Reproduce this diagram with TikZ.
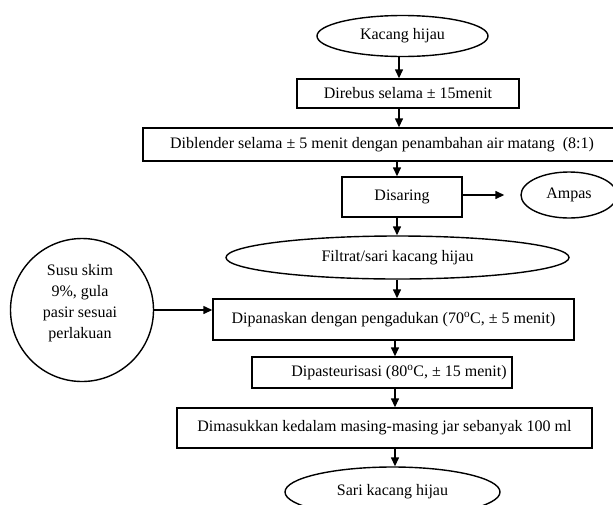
\documentclass[tikz,border=0pt]{standalone}
\usepackage{fontspec}
\setmainfont{Liberation Serif}
\usetikzlibrary{shapes.geometric,arrows.meta}
\begin{document}
\begin{tikzpicture}[x=1pt,y=-1pt,
  every node/.style={font=\fontsize{16}{21}\selectfont, inner sep=0pt},
  stepbox/.style={draw, line width=1.4pt, rectangle},
  oval/.style={draw, line width=1.4pt, ellipse},
  arr/.style={line width=1.4pt, -{Triangle[length=9pt,width=8pt]}}]
\useasboundingbox (0,0) rectangle (613,504);
% nodes
\node[oval, minimum width=171, minimum height=41] (k1) at (402.5,36) {Kacang hijau};
\node[stepbox, minimum width=222, minimum height=29] (b1) at (408,93.5) {Direbus selama ± 15menit};
\node[stepbox, minimum width=478, minimum height=33] (b2) at (382,144.5) {Diblender selama ± 5 menit dengan penambahan air matang \ (8:1)};
\node[stepbox, minimum width=120, minimum height=40] (b3) at (402,197) {Disaring};
\node[oval, minimum width=96, minimum height=46] (amp) at (569,195) {Ampas};
\node[oval, minimum width=343, minimum height=43] (fil) at (397.5,257.5) {Filtrat/sari kacang hijau};
\node[stepbox, minimum width=361, minimum height=41] (dip) at (393.5,319.5) {Dipanaskan dengan pengadukan (70\textsuperscript{o}C, ± 5 menit)};
\node[circle, draw, line width=1.4pt, minimum size=143] (sus) at (82,310) {};
\node[align=center] (sust) at (80,303) {Susu skim\\9\%, gula\\pasir sesuai\\perlakuan};
\node[stepbox, minimum width=260, minimum height=31] (pas) at (382,372.5) {\hspace*{34pt}Dipasteurisasi (80\textsuperscript{o}C, ± 15 menit)};
\node[stepbox, minimum width=415, minimum height=40] (dim) at (384.5,428) {Dimasukkan kedalam masing-masing jar sebanyak 100 ml};
\node[oval, minimum width=215, minimum height=50] (sari) at (392.5,492) {Sari kacang hijau};
% arrow columns
\coordinate (cA) at (399,0);
\coordinate (cB) at (397,0);
\coordinate (cC) at (395,0);
% connectors
\draw[arr] (k1.south -| cA) -- (b1.north -| cA);
\draw[arr] (b1.south -| cA) -- (b2.north -| cA);
\draw[arr] (b2.south -| cB) -- (b3.north -| cB);
\draw[arr, shorten >=16pt] (b3.east |- amp.west) -- (amp.west);
\draw[arr] (b3.south -| cB) -- (fil.north -| cB);
\draw[arr] (fil.south -| cB) -- (dip.north -| cB);
\draw[arr] (sus.east) -- (sus.east -| dip.west);
\draw[arr] (dip.south -| cC) -- (pas.north -| cC);
\draw[arr] (pas.south -| cC) -- (dim.north -| cC);
\draw[arr] (dim.south -| cC) -- (sari.north -| cC);
\end{tikzpicture}
\end{document}
